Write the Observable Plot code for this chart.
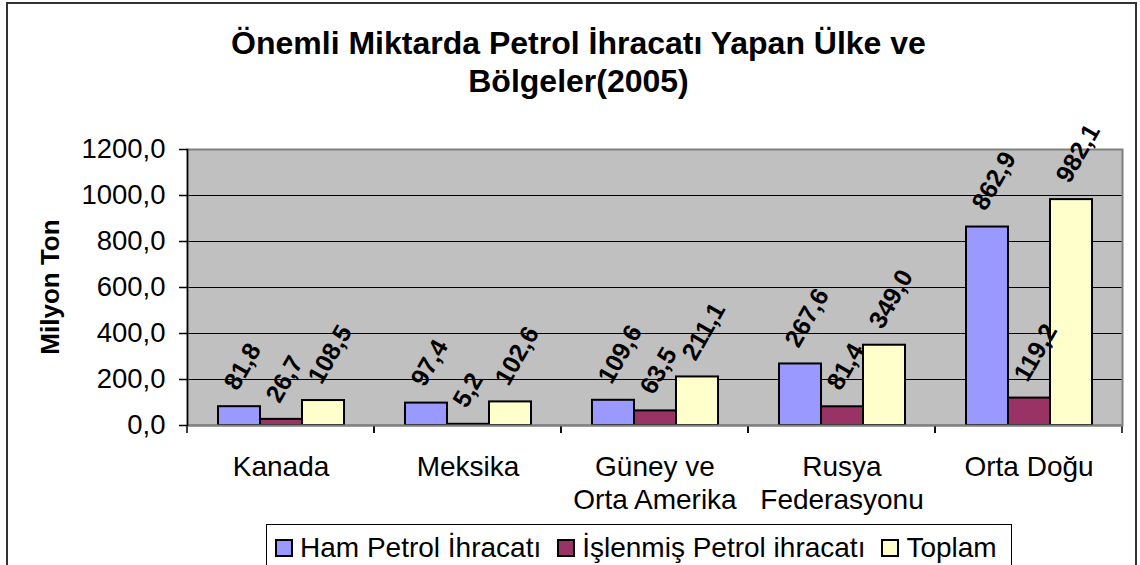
<!DOCTYPE html>
<html>
<head>
<meta charset="utf-8">
<script src="https://cdn.jsdelivr.net/npm/d3@7"></script>
<script src="https://cdn.jsdelivr.net/npm/@observablehq/plot@0.6"></script>
<style>
  body { margin: 0; background: #fff; font-family: "Liberation Sans", Arial, sans-serif; }
  #wrap { position: relative; width: 1140px; height: 565px; overflow: hidden; background: #fff; }
  #border { position: absolute; left: 6px; top: 2px; width: 1131px; height: 640px; border: 2px solid #333; box-sizing: border-box; }
  #title { position: absolute; top: 24px; left: 13px; width: 1131px; text-align: center; font-weight: bold; font-size: 32px; line-height: 38px; color: #000; }
  #ylabel { position: absolute; left: 50px; top: 287px; transform: translate(-50%, -50%) rotate(-90deg); font-weight: bold; font-size: 26px; white-space: nowrap; color: #000; }
  #chart { position: absolute; left: 0; top: 0; }
  #legend { position: absolute; left: 266px; top: 524px; width: 746px; height: 60px; border: 1px solid #000; box-sizing: border-box; background: #fff; display: flex; align-items: flex-start; padding: 7px 0 0 8px; font-size: 28px; line-height: 32px; color: #000; white-space: nowrap; }
  .item { display: flex; align-items: center; margin-right: 16px; }
  .sw { width: 14px; height: 14px; border: 2px solid #000; margin-right: 7px; }
</style>
</head>
<body>
<div id="wrap">
  <div id="border"></div>
  <div id="title">Önemli Miktarda Petrol İhracatı Yapan Ülke ve<br>Bölgeler(2005)</div>
  <div id="chart"></div>
  <div id="ylabel">Milyon Ton</div>
  <div id="legend"></div>
</div>
<script>
const categories = ["Kanada", "Meksika", "Güney ve\nOrta Amerika", "Rusya\nFederasyonu", "Orta Doğu"];
const series = ["Ham Petrol İhracatı", "İşlenmiş Petrol ihracatı", "Toplam"];
const hamPetrol = [81.8, 97.4, 109.6, 267.6, 862.9];
const islenmisPetrol = [26.7, 5.2, 63.5, 81.4, 119.2];
const toplam = [108.5, 102.6, 211.1, 349.0, 982.1];
const colors = ["#9999FF", "#993366", "#FFFFCC"];
const yTicks = [0, 200, 400, 600, 800, 1000, 1200];

const seriesValues = [hamPetrol, islenmisPetrol, toplam];
const data = categories.flatMap((c, i) => series.map((s, j) => ({category: c, series: s, value: seriesValues[j][i]})));
const fmt = v => v.toFixed(1).replace(".", ",");

function boundaryTicks(index, scales) {
  const [x0, x1] = scales.x.range();
  const y0 = scales.y(0);
  const g = d3.create("svg:g").attr("stroke", "#000").attr("stroke-width", 1.5);
  for (const x of [x0, x1]) g.append("line").attr("x1", x).attr("x2", x).attr("y1", y0).attr("y2", y0 + 8);
  return g.node();
}

const chart = Plot.plot({
  width: 1140,
  height: 565,
  marginTop: 149,
  marginBottom: 140,
  marginLeft: 187,
  marginRight: 18,
  style: {fontFamily: "'Liberation Sans', Arial, sans-serif", fontSize: "27.5px", color: "#000", background: "transparent"},
  fx: {domain: categories, padding: 0, label: null},
  x: {domain: series, paddingInner: 0, paddingOuter: 0.726, axis: null},
  y: {domain: [0, 1200], label: null},
  color: {domain: series, range: colors},
  marks: [
    Plot.frame({fill: "#C0C0C0", facet: "super"}),
    Plot.ruleY(yTicks.filter(v => v > 0 && v < 1200), {stroke: "#000", strokeWidth: 1.2}),
    Plot.barY(data, {fx: "category", x: "series", y: "value", fill: "series", stroke: "#000", strokeWidth: 2}),
    Plot.ruleY([0], {stroke: "#000", strokeWidth: 1.5}),
    boundaryTicks,
    Plot.frame({facet: "super", stroke: "#808080", strokeWidth: 2}),
    Plot.frame({facet: "super", anchor: "left", stroke: "#000", strokeWidth: 1.5}),
    Plot.text(data, {fx: "category", x: "series", y: "value", text: d => fmt(d.value), rotate: -60, textAnchor: "start", lineAnchor: "middle", dx: -9, dy: -19, fontWeight: "bold", fontSize: 25, fill: "#000"}),
    Plot.axisY({ticks: yTicks, tickFormat: fmt, tickSize: 8, tickPadding: 14, fontSize: 27.5, stroke: "#000", strokeWidth: 1.5, label: null}),
    Plot.axisFx({anchor: "bottom", tickSize: 0, tickPadding: 27, lineAnchor: "top", lineHeight: 1.18, fontSize: 28, label: null})
  ]
});
document.getElementById("chart").appendChild(chart);

const legend = document.getElementById("legend");
series.forEach((s, i) => {
  const item = document.createElement("div");
  item.className = "item";
  const sw = document.createElement("div");
  sw.className = "sw";
  sw.style.background = colors[i];
  const t = document.createElement("span");
  t.textContent = s;
  item.appendChild(sw);
  item.appendChild(t);
  legend.appendChild(item);
});
</script>
</body>
</html>
